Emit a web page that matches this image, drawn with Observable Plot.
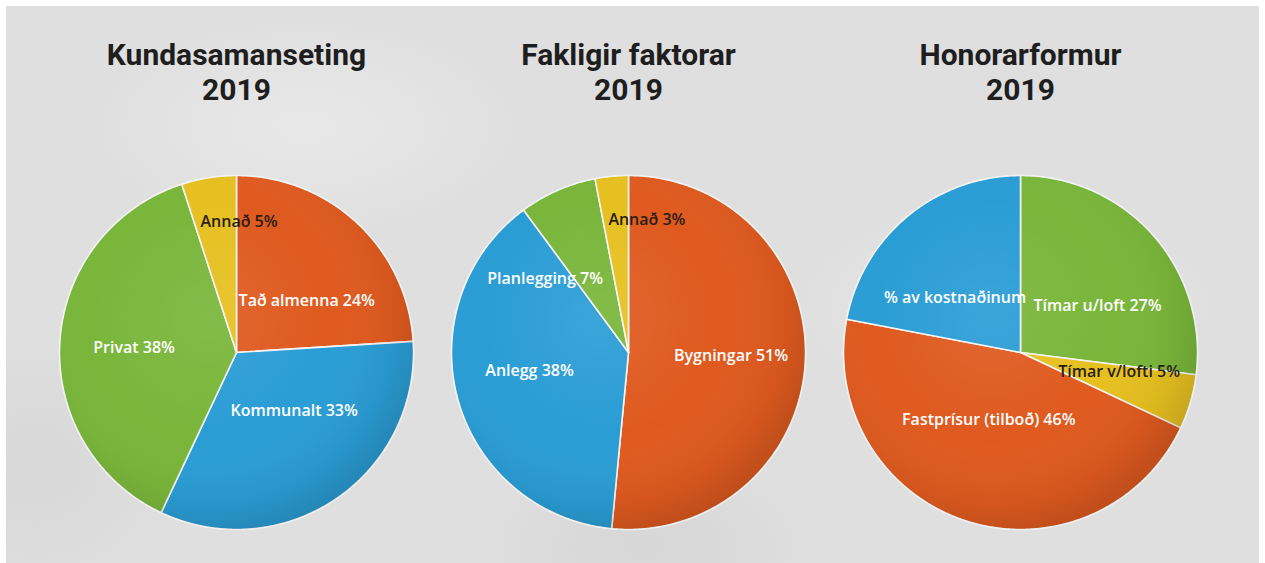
<!DOCTYPE html>
<html><head><meta charset="utf-8">
<script src="https://cdn.jsdelivr.net/npm/d3@7"></script>
<script src="https://cdn.jsdelivr.net/npm/@observablehq/plot@0.6"></script>
<style>
html,body{margin:0;padding:0;background:#fff;width:1265px;height:563px;overflow:hidden;}
#bg{position:absolute;left:6px;top:6px;width:1253px;height:557px;
  background:
   radial-gradient(ellipse 320px 160px at 300px 120px, rgba(236,236,236,0.7), rgba(236,236,236,0) 70%),
   radial-gradient(ellipse 320px 160px at 1000px 300px, rgba(236,236,236,0.6), rgba(236,236,236,0) 70%),
   radial-gradient(ellipse 260px 140px at 640px 540px, rgba(205,205,205,0.5), rgba(205,205,205,0) 70%),
   radial-gradient(ellipse 220px 200px at 30px 460px, rgba(208,208,208,0.5), rgba(208,208,208,0) 70%),
   #dfdfdf;}
#chart{position:absolute;left:0;top:0;}
</style></head><body><div id="bg"></div><div id="chart"></div>
<script>
// ---- data ----
const chartTitles = ["Kundasamanseting", "Fakligir faktorar", "Honorarformur"];
const chartYear = "2019";

const kundaLabels = ["Tað almenna", "Kommunalt", "Privat", "Annað"];
const kundaValues = [24, 33, 38, 5];
const kundaTexts  = ["Tað almenna 24%", "Kommunalt 33%", "Privat 38%", "Annað 5%"];

const fakLabels = ["Bygningar", "Anlegg", "Planlegging", "Annað"];
const fakValues = [51, 38, 7, 3];
const fakTexts  = ["Bygningar 51%", "Anlegg 38%", "Planlegging 7%", "Annað 3%"];

const honLabels = ["Tímar u/loft", "Tímar v/lofti", "Fastprísur (tilboð)", "% av kostnaðinum"];
const honValues = [27, 5, 46, 22];
const honTexts  = ["Tímar u/loft 27%", "Tímar v/lofti 5%", "Fastprísur (tilboð) 46%", "% av kostnaðinum"];

// ---- styles ----
const ORANGE = "#df5a1f", BLUE = "#2a9dd5", GREEN = "#79b63a", YELLOW = "#e6c020";
const colorDomain = ["Tað almenna", "Kommunalt", "Privat", "Annað", "Bygningar", "Anlegg", "Planlegging",
  "Tímar u/loft", "Tímar v/lofti", "Fastprísur (tilboð)", "% av kostnaðinum"];
const colorRange = [ORANGE, BLUE, GREEN, YELLOW, ORANGE, BLUE, GREEN, GREEN, YELLOW, ORANGE, BLUE];
const darkLabels = new Set(["Annað", "Tímar v/lofti"]);
const FONT = "'Open Sans', sans-serif";
const TITLE_FONT = "Roboto, sans-serif";

const charts = [
  {title: chartTitles[0], labels: kundaLabels, values: kundaValues, texts: kundaTexts},
  {title: chartTitles[1], labels: fakLabels, values: fakValues, texts: fakTexts},
  {title: chartTitles[2], labels: honLabels, values: honValues, texts: honTexts}
];

// ---- geometry from data ----
const slicePts = [], labelRows = [], discPts = [];
charts.forEach(c => {
  const items = c.labels.map((l, i) => ({label: l, value: c.values[i], text: c.texts[i]}));
  const total = d3.sum(items, d => d.value);
  const arcs = d3.pie().sort(null).value(d => d.value)(items);
  arcs.forEach((a, i) => {
    const key = c.title + "|" + i;
    slicePts.push({chart: c.title, key, label: a.data.label, x: 0, y: 0});
    const n = Math.max(2, Math.ceil((a.endAngle - a.startAngle) / 0.01));
    for (let k = 0; k <= n; k++) {
      const t = a.startAngle + (a.endAngle - a.startAngle) * k / n;
      slicePts.push({chart: c.title, key, label: a.data.label, x: Math.sin(t), y: Math.cos(t)});
    }
    const mid = (a.startAngle + a.endAngle) / 2;
    const frac = a.data.value / total;
    const dark = darkLabels.has(a.data.label);
    let row;
    if (frac < 0.1 && i === arcs.length - 1) {
      // thin last slice at the top: text starts at the slice's left edge
      const r = 0.75;
      row = {x: r * Math.sin(a.startAngle), y: r * Math.cos(mid), anchor: "start"};
    } else if (frac < 0.1 && Math.sin(mid) < 0) {
      // thin slice on the left: text ends inside the slice
      const r = 0.5;
      row = {x: r * Math.sin(mid), y: r * Math.cos(mid) - 0.04, anchor: "end"};
    } else {
      row = {x: 0.58 * Math.sin(mid), y: 0.4 * Math.cos(mid), anchor: "middle"};
    }
    labelRows.push({chart: c.title, text: a.data.text, dark, ...row});
  });
  for (let k = 0; k <= 360; k++) {
    const t = 2 * Math.PI * k / 360;
    discPts.push({chart: c.title, x: Math.sin(t), y: Math.cos(t)});
  }
});

const R = 177, band = 392;
const textOpts = {fx: "chart", x: "x", y: "y", text: "text", fontSize: 16, fontWeight: 600, fontFamily: FONT};
const anchors = ["start", "middle", "end"];
const labelMarks = [];
for (const dark of [false, true]) for (const anchor of anchors) {
  const rows = labelRows.filter(d => d.dark === dark && d.anchor === anchor);
  if (rows.length) labelMarks.push(Plot.text(rows, {...textOpts, textAnchor: anchor,
    dx: anchor === "start" ? 5 : anchor === "end" ? 10 : 0,
    fill: dark ? "#2a1d12" : "white"}));
}

const plot = Plot.plot({
  width: 1265, height: 563,
  marginLeft: 40, marginRight: 49, marginTop: 0, marginBottom: 0,
  style: {background: "transparent", overflow: "visible"},
  fx: {domain: chartTitles, padding: 0, axis: null},
  x: {domain: [-band / 2 / R, band / 2 / R], axis: null},
  y: {domain: [(352 - 563) / R, 352 / R], axis: null},
  color: {type: "ordinal", domain: colorDomain, range: colorRange},
  marks: [
    Plot.line(slicePts, {fx: "chart", x: "x", y: "y", z: "key", fill: "label",
      stroke: "#f4f4f4", strokeWidth: 1.6, curve: "linear-closed", strokeLinejoin: "round"}),
    Plot.line(discPts, {fx: "chart", x: "x", y: "y", z: "chart", curve: "linear-closed",
      fill: "url(#pieShade)", stroke: "#f2f2f2", strokeWidth: 1, strokeOpacity: 0.7}),
    ...labelMarks,
    Plot.text(chartTitles, {fx: d => d, text: d => d + "\n" + chartYear, frameAnchor: "top",
      lineAnchor: "top", dy: 39, fontSize: 30, fontWeight: 700, lineHeight: 1.18,
      fill: "#1e1e1e", fontFamily: TITLE_FONT})
  ]
});

const ns = "http://www.w3.org/2000/svg";
const defs = document.createElementNS(ns, "defs");
defs.innerHTML = `
<radialGradient id="pieShade" cx="0.42" cy="0.4" r="0.62">
  <stop offset="0" stop-color="#ffffff" stop-opacity="0.08"/>
  <stop offset="0.55" stop-color="#ffffff" stop-opacity="0"/>
  <stop offset="0.85" stop-color="#000000" stop-opacity="0.05"/>
  <stop offset="1" stop-color="#000000" stop-opacity="0.14"/>
</radialGradient>`;
plot.insertBefore(defs, plot.firstChild);
document.getElementById("chart").appendChild(plot);
</script></body></html>
